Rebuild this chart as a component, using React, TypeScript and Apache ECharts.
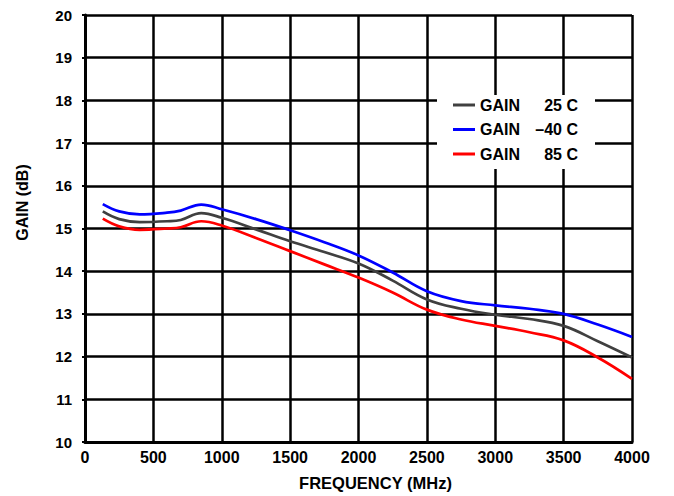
import React, { useEffect, useRef } from "react";
import * as echarts from "echarts";

const freqs = [130, 250, 400, 600, 700, 850, 1000, 1250, 1500, 1750, 2000, 2250, 2500, 2750, 3000, 3250, 3500, 3750, 4000];
const gain25 = [15.40, 15.22, 15.15, 15.17, 15.20, 15.36, 15.25, 14.98, 14.70, 14.45, 14.18, 13.78, 13.34, 13.12, 12.98, 12.88, 12.72, 12.36, 11.98];
const gainM40 = [15.57, 15.40, 15.33, 15.37, 15.42, 15.56, 15.45, 15.22, 14.96, 14.68, 14.37, 13.97, 13.53, 13.30, 13.20, 13.12, 13.00, 12.75, 12.46];
const gain85 = [15.23, 15.05, 14.97, 15.00, 15.03, 15.17, 15.07, 14.78, 14.47, 14.16, 13.85, 13.50, 13.10, 12.87, 12.72, 12.57, 12.38, 11.98, 11.48];
const seriesNames = ["GAIN 25 C", "GAIN –40 C", "GAIN 85 C"];
const tempLabels = ["25 C", "–40 C", "85 C"];
const seriesColors = ["#404040", "#0000ff", "#ff0000"];

const FONT = 'Arial, "Liberation Sans", sans-serif';

export default function App() {
  const ref = useRef<HTMLDivElement>(null);
  useEffect(() => {
    document.body.style.margin = "0";
    if (!ref.current) return;
    const chart = echarts.init(ref.current, undefined, { renderer: "svg" });
    const datasets = [gain25, gainM40, gain85];
    chart.setOption({
      animation: false,
      textStyle: { fontFamily: FONT },
      grid: { left: 85, right: 42, top: 15, bottom: 53, containLabel: false },
      legend: {
        orient: "vertical",
        left: 437,
        top: 95,
        padding: [2, 17, 7, 16],
        backgroundColor: "#ffffff",
        icon: "rect",
        itemWidth: 22,
        itemHeight: 3,
        itemGap: 8.5,
        data: seriesNames,
        formatter: (name: string) => {
          const i = seriesNames.indexOf(name);
          return "{a|GAIN}{b|" + tempLabels[i] + "}";
        },
        textStyle: {
          fontFamily: FONT,
          fontWeight: "bold",
          fontSize: 16,
          lineHeight: 16,
          color: "#000",
          rich: {
            a: { fontFamily: FONT, fontWeight: "bold", fontSize: 16, lineHeight: 16, width: 48, color: "#000" },
            b: { fontFamily: FONT, fontWeight: "bold", fontSize: 16, lineHeight: 16, width: 50, align: "right", color: "#000" },
          },
        },
      },
      xAxis: {
        type: "value",
        min: 0,
        max: 4000,
        interval: 500,
        name: "FREQUENCY (MHz)",
        nameLocation: "middle",
        nameGap: 32,
        nameTextStyle: { fontFamily: FONT, fontWeight: "bold", fontSize: 16.5, color: "#000", padding: [0, 0, 0, 34] },
        axisLine: { show: true, lineStyle: { color: "#000", width: 3 } },
        axisTick: { show: false },
        axisLabel: { margin: 7, fontFamily: FONT, fontWeight: "bold", fontSize: 16, color: "#000", formatter: (v: number) => String(v) },
        splitLine: { show: true, showMinLine: true, showMaxLine: true, lineStyle: { color: "#000", width: 2.5 } },
      },
      yAxis: {
        type: "value",
        min: 10,
        max: 20,
        interval: 1,
        name: "GAIN (dB)",
        nameLocation: "middle",
        nameGap: 55,
        nameTextStyle: { fontFamily: FONT, fontWeight: "bold", fontSize: 16, color: "#000", padding: [0, 0, 0, 52] },
        axisLine: { show: true, lineStyle: { color: "#000", width: 3 } },
        axisTick: { show: true, length: 3, lineStyle: { color: "#000", width: 2 } },
        axisLabel: { margin: 13, fontFamily: FONT, fontWeight: "bold", fontSize: 15, color: "#000" },
        splitLine: { show: true, showMinLine: true, showMaxLine: true, lineStyle: { color: "#000", width: 2.5 } },
      },
      series: datasets.map((d, i) => ({
        name: seriesNames[i],
        type: "line",
        smooth: 0.4,
        symbol: "none",
        data: freqs.map((f, j) => [f, d[j]]),
        lineStyle: { color: seriesColors[i], width: 2.7 },
        itemStyle: { color: seriesColors[i] },
        z: 3,
      })),
    });
    return () => chart.dispose();
  }, []);
  return <div ref={ref} style={{ width: 674, height: 496 }} />;
}
